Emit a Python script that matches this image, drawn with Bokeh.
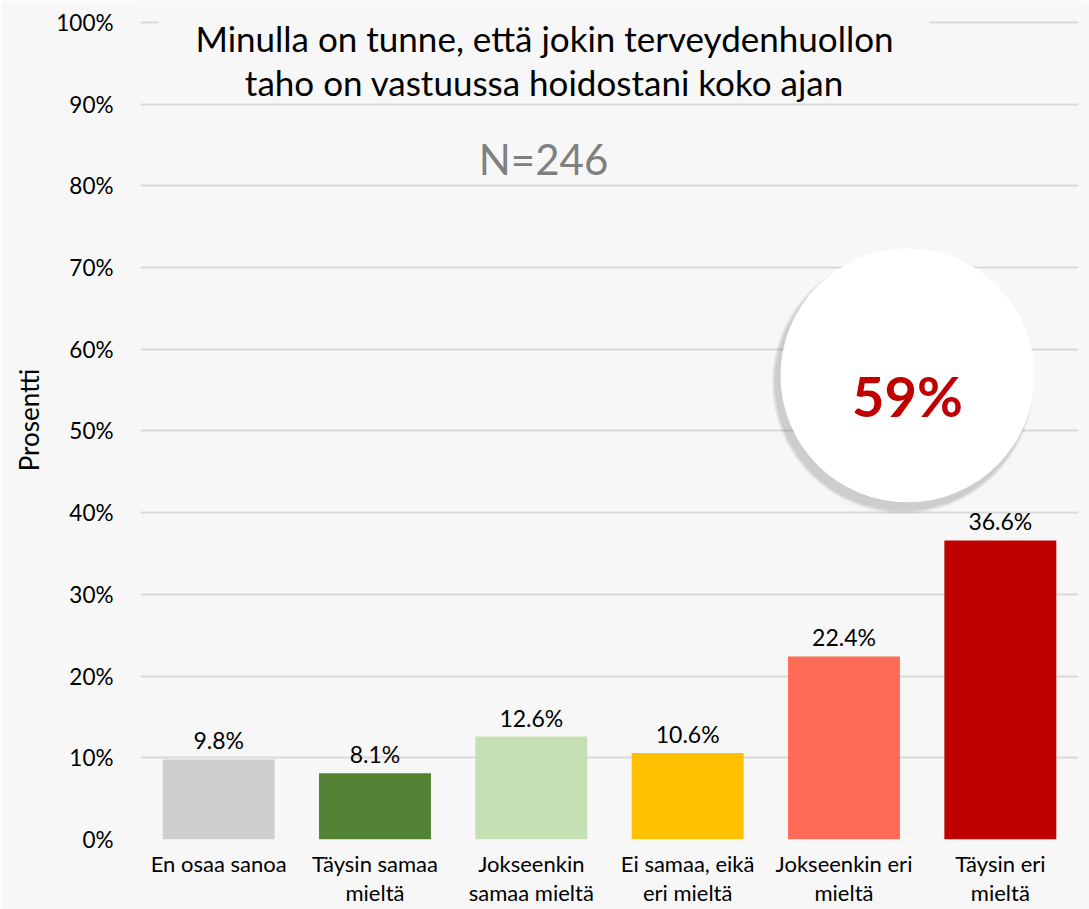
from bokeh.plotting import figure
from bokeh.models import (ColumnDataSource, FactorRange, Range1d, FixedTicker,
                          PrintfTickFormatter, BoxAnnotation, Label)
from bokeh.core.properties import value
from bokeh.embed import file_html
from bokeh.resources import INLINE

# ---- data ----
categories = ["En osaa sanoa", "Täysin samaa\nmieltä", "Jokseenkin\nsamaa mieltä",
              "Ei samaa, eikä\neri mieltä", "Jokseenkin eri\nmieltä", "Täysin eri\nmieltä"]
percentages = [9.8, 8.1, 12.6, 10.6, 22.4, 36.6]
bar_colors = ["#d0cece", "#548235", "#c5e0b4", "#ffc000", "#ff6b57", "#c00000"]
y_ticks = [0, 10, 20, 30, 40, 50, 60, 70, 80, 90, 100]
title_lines = ["Minulla on tunne, että jokin terveydenhuollon",
               "taho on vastuussa hoidostani koko ajan"]
n_respondents = 246
highlight = round(percentages[4] + percentages[5])

BG = "#f7f7f7"
FONT = "Lato"

src = ColumnDataSource(dict(
    cat=categories,
    val=percentages,
    color=bar_colors,
    label=[f"{v:.1f}%" for v in percentages],
))

p = figure(x_range=FactorRange(factors=categories, range_padding=0),
           y_range=Range1d(0, 102.69),
           width=1089, height=909,
           output_backend="svg", toolbar_location=None,
           min_border_left=140, min_border_right=11,
           min_border_top=0, min_border_bottom=60)

p.background_fill_color = BG
p.border_fill_color = BG
p.outline_line_color = None

# grid
p.xgrid.grid_line_color = None
p.ygrid.grid_line_color = "#d9d9d9"
p.ygrid.grid_line_width = 2

# y axis
p.yaxis.ticker = FixedTicker(ticks=y_ticks)
p.yaxis.formatter = PrintfTickFormatter(format="%d%%")
p.yaxis.axis_line_color = None
p.yaxis.major_tick_line_color = None
p.yaxis.major_tick_out = 0
p.yaxis.major_tick_in = 0
p.yaxis.minor_tick_line_color = None
p.yaxis.major_label_standoff = 27
p.yaxis.major_label_text_font = FONT
p.yaxis.major_label_text_font_size = "22.5px"
p.yaxis.major_label_text_color = "#000000"
p.yaxis.axis_label = "Prosentti"
p.yaxis.axis_label_text_font = FONT
p.yaxis.axis_label_text_font_size = "26px"
p.yaxis.axis_label_text_font_style = "normal"
p.yaxis.axis_label_text_color = "#000000"
p.yaxis.axis_label_standoff = 8

# x axis
p.xaxis.axis_line_color = None
p.xaxis.major_tick_line_color = None
p.xaxis.major_tick_out = 0
p.xaxis.major_tick_in = 0
p.xaxis.minor_tick_line_color = None
p.xaxis.major_label_standoff = 10
p.xaxis.major_label_text_font = FONT
p.xaxis.major_label_text_font_size = "22px"
p.xaxis.major_label_text_line_height = 1.1
p.xaxis.major_label_text_color = "#000000"

# bars
p.vbar(x="cat", top="val", width=0.716, fill_color="color", line_color=None, source=src)

# value labels
p.text(x="cat", y="val", text="label", source=src,
       text_align="center", text_baseline="alphabetic", y_offset=-19,
       text_font=value(FONT), text_font_size="23px", text_color="#000000")

# highlight bubble (synthetic categorical coordinates)
bx, by = 4.906, 56.8
for r in [131, 130, 129, 128]:
    p.circle(x=[bx - 0.03], y=[by - 0.9], radius=r, radius_units="screen",
             fill_color="#000000", fill_alpha=0.045, line_color=None)
p.circle(x=[bx], y=[by], radius=127, radius_units="screen",
         fill_color="#ffffff", line_color=None)
p.text(x=[bx], y=[54.35], text=[f"{highlight}%"],
       text_align="center", text_baseline="alphabetic",
       text_font=value(FONT), text_font_size="56px", text_font_style="bold",
       text_color="#c00000")

# hide 100% gridline behind the title
p.add_layout(BoxAnnotation(left=0.115, right=5.047, bottom=99.0, top=101.0,
                           fill_color=BG, fill_alpha=1.0, line_color=None))

# title & N
p.add_layout(Label(x=2.584, y=98.16, text=title_lines[0], text_align="center",
                   text_baseline="alphabetic", text_font=FONT,
                   text_font_size="35px", text_color="#000000"))
p.add_layout(Label(x=2.584, y=92.66, text=title_lines[1], text_align="center",
                   text_baseline="alphabetic", text_font=FONT,
                   text_font_size="35px", text_color="#000000"))
p.add_layout(Label(x=2.578, y=83.35, text=f"N={n_respondents}", text_align="center",
                   text_baseline="alphabetic", text_font=FONT,
                   text_font_size="42px", text_color="#808080"))

open("out.html", "w").write(file_html(p, INLINE))
